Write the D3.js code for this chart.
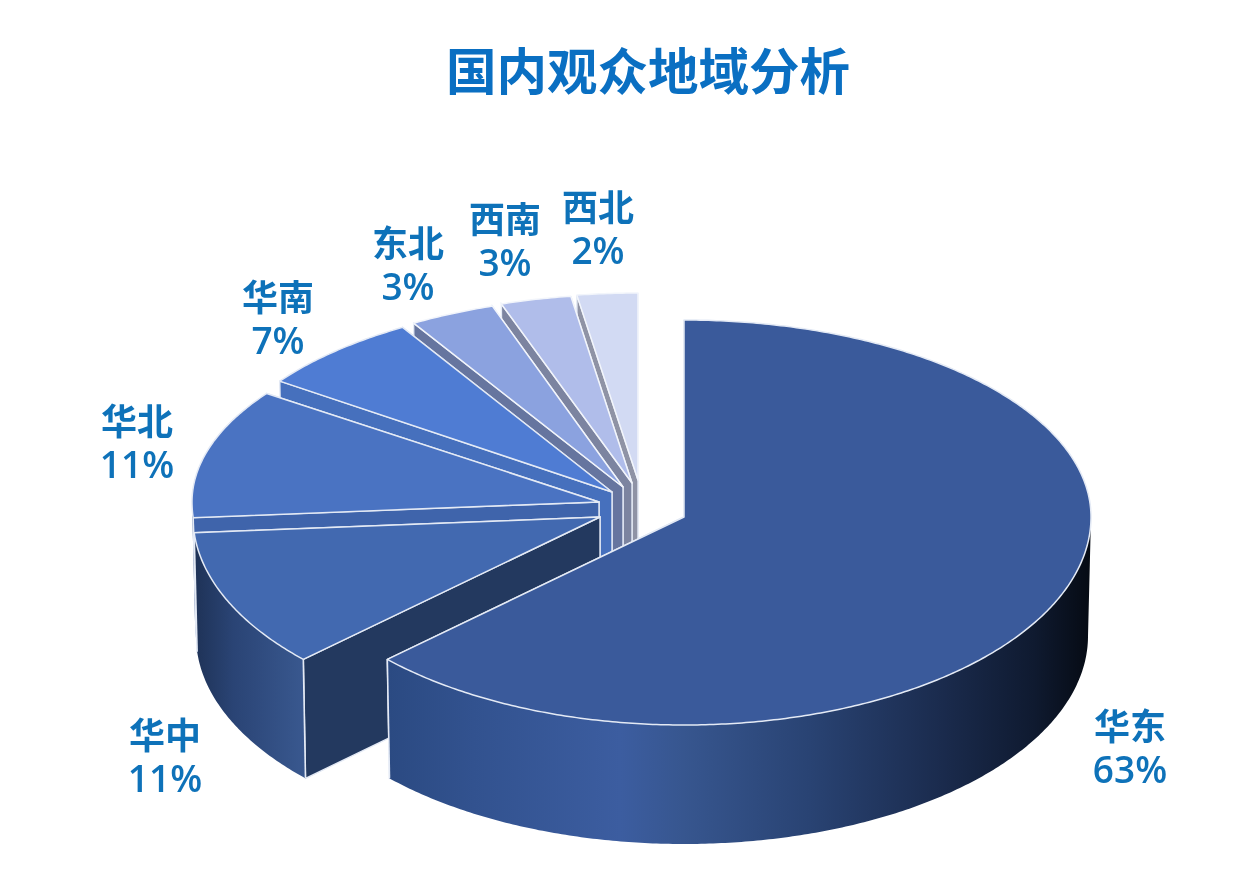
<!DOCTYPE html>
<html>
<head>
<meta charset="utf-8">
<script src="https://cdn.jsdelivr.net/npm/d3@7/dist/d3.min.js"></script>
<style>
html,body{margin:0;padding:0;background:#fff;}
svg{display:block;filter:blur(0.45px);}
text{font-family:"Noto Sans CJK SC","Noto Sans",sans-serif;}
</style>
</head>
<body>
<svg id="chart" width="1258" height="876"></svg>
<script>
// --- data ---
const chartTitle = "国内观众地域分析";
const regions = ["华东","华中","华北","华南","东北","西南","西北"];
const shares  = [63, 10.8, 11, 6.6, 3.4, 2.8, 2.4];

// --- styles / layout ---
const topColors  = ["#3a5a9b","#4269b0","#4a73c2","#4f7cd3","#8ba2df","#b0bdea","#d2daf3"];
const faceColors = ["#23395f","#23395f","#3f64ab","#4670bd","#66759f","#7c84a0","#8f93a5"];
const apexX = [684,600,599,612,623,632,638];
const apexY = [517,517,502,492,487,483,480];
const backRadiusY = [197,197,188,192,191,189,187];
const labelX = [1130,165,137,278,408,505,598];
const labelY = [748,757,443,319,265,241,229];

const RX = 407, RY_FRONT = 208, DEPTH = 119, RX_BOTTOM = 404;

const svg = d3.select("#chart");
const defs = svg.append("defs");

const unitX = d3.scaleLinear().domain([-1,1]).range([-RX,RX]);
const unitXB = d3.scaleLinear().domain([-1,1]).range([-RX_BOTTOM,RX_BOTTOM]);
const unitYFront = d3.scaleLinear().domain([-1,0]).range([RY_FRONT,0]);
const unitY = (c,i) => c >= 0 ? -c*backRadiusY[i] : unitYFront(c);

const pie = d3.pie().sort(null).value(d => d.value).startAngle(0).endAngle(2*Math.PI);
const slices = pie(regions.map((r,i)=>({name:r,value:shares[i]})));

function topPt(i,a){ return [apexX[i]+unitX(Math.sin(a)), apexY[i]+unitY(Math.cos(a),i)]; }
function botPt(i,a){ return [apexX[i]+unitXB(Math.sin(a)), apexY[i]+DEPTH+unitY(Math.cos(a),i)]; }
const line = d3.line();

function arcAngles(a0,a1){
  const n = Math.max(2,Math.ceil((a1-a0)/0.01));
  return d3.range(n+1).map(k => a0+(a1-a0)*k/n);
}

// gradients of the outer walls
function gradient(id,x1,x2,stops){
  const g = defs.append("linearGradient").attr("id",id)
    .attr("gradientUnits","userSpaceOnUse")
    .attr("x1",x1).attr("x2",x2).attr("y1",0).attr("y2",0);
  stops.forEach(s => g.append("stop").attr("offset",s[0]).attr("stop-color",s[1]));
}
gradient("wall0",389,1090,[[0,"#2b4a82"],[0.12,"#32528f"],[0.33,"#3c5da0"],[0.42,"#37568f"],[0.6,"#294373"],[0.78,"#1b2c4f"],[0.92,"#0f1a30"],[1,"#060b14"]]);
gradient("wall1",196,304,[[0,"#1f3358"],[0.35,"#2a4475"],[1,"#39588f"]]);
gradient("wall2",190,215,[[0,"#2f4c85"],[1,"#3f64ab"]]);

const order = d3.range(regions.length).reverse();
const edge = "#e4eaf5";

order.forEach(i => {
  const d = slices[i];
  const g = svg.append("g");
  const ax=apexX[i], ay=apexY[i];

  // radial side faces
  [d.endAngle,d.startAngle].forEach(a => {
    const t = topPt(i,a), b = botPt(i,a);
    g.append("path")
      .attr("d", line([[ax,ay],t,b,[ax,ay+DEPTH]])+"Z")
      .attr("fill",faceColors[i])
      .attr("stroke",edge).attr("stroke-width",1.4);
  });

  // outer wall on the front half
  const a0 = Math.max(d.startAngle,Math.PI/2), a1 = Math.min(d.endAngle,Math.PI*1.5);
  if (a1 > a0) {
    const angs = arcAngles(a0,a1);
    const pts = angs.map(a=>topPt(i,a)).concat(angs.slice().reverse().map(a=>botPt(i,a)));
    g.append("path").attr("d",line(pts)+"Z")
      .attr("fill",`url(#wall${i})`);
    // vertical edges at visible corners
    [d.startAngle,d.endAngle].forEach(a => {
      if (a > Math.PI/2 && a < Math.PI*1.5) {
        g.append("path").attr("d",line([topPt(i,a),botPt(i,a)]))
          .attr("stroke",edge).attr("stroke-width",1.6).attr("fill","none");
      }
    });
  }

  // top face
  const topPts = [[ax,ay]].concat(arcAngles(d.startAngle,d.endAngle).map(a=>topPt(i,a)));
  g.append("path").attr("d",line(topPts)+"Z")
    .attr("fill",topColors[i])
    .attr("stroke",i>=4? "#f2f5fb":edge).attr("stroke-width",1.5)
    .attr("stroke-linejoin","round");
});

// title
svg.append("text").attr("x",648).attr("y",68)
  .attr("text-anchor","middle").attr("dominant-baseline","central")
  .attr("font-size",50.5).attr("font-weight",700).attr("fill","#0a6fc2")
  .text(chartTitle);

// labels
const pct = d3.format(".0f");
slices.forEach((d,i) => {
  const t = svg.append("text").attr("text-anchor","middle")
    .attr("font-size",36).attr("font-weight",700).attr("fill","#0e72b9");
  t.append("tspan").attr("x",labelX[i]).attr("y",labelY[i]-8).text(d.data.name);
  t.append("tspan").attr("x",labelX[i]).attr("y",labelY[i]+35)
    .attr("font-family","'Open Sans','Noto Sans',sans-serif")
    .attr("font-weight",600).attr("font-size",37).text(pct(d.data.value)+"%");
});
</script>
</body>
</html>
